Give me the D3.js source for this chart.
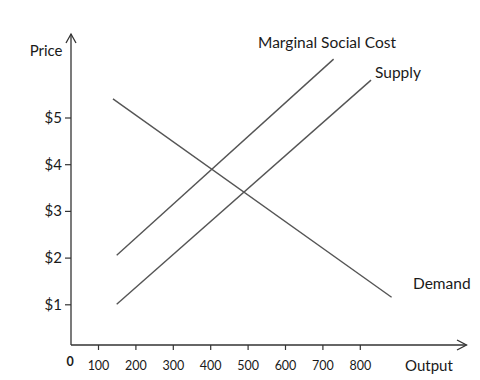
<!DOCTYPE html>
<html>
<head>
<meta charset="utf-8">
<script src="https://cdn.jsdelivr.net/npm/d3@7"></script>
<style>
  html, body { margin: 0; padding: 0; background: #fff; }
  svg text { font-family: Lato, "Open Sans", sans-serif; fill: #1a1a1a; }
</style>
</head>
<body>
<svg id="chart" width="480" height="380"></svg>
<script>
// ---- data ----
const xTicks = [100, 200, 300, 400, 500, 600, 700, 800];
const yTicks = [1, 2, 3, 4, 5];
const yTickLabels = ["$1", "$2", "$3", "$4", "$5"];
const curveNames = ["Demand", "Marginal Social Cost", "Supply"];
const demandOutput = [140, 885];
const demandPrice = [5.4, 1.15];
const mscOutput = [150, 730];
const mscPrice = [2.05, 6.25];
const supplyOutput = [150, 830];
const supplyPrice = [1.0, 5.8];

// ---- layout ----
const svg = d3.select("#chart");
const axisX = 71, axisY = 345;
const x = d3.scaleLinear().domain([0, 800]).range([60.6, 359.8]);
const y = d3.scaleLinear().domain([0, 5]).range([351, 117.5]);
const axisColor = "#333";
const lineColor = "#555";

// axis lines with arrows
svg.append("line").attr("x1", axisX).attr("y1", axisY).attr("x2", axisX).attr("y2", 34)
  .attr("stroke", axisColor).attr("stroke-width", 1.3);
svg.append("path").attr("d", `M${axisX - 5},43 L${axisX},34 L${axisX + 5},43`)
  .attr("fill", "none").attr("stroke", axisColor).attr("stroke-width", 1.3);
svg.append("line").attr("x1", axisX).attr("y1", axisY).attr("x2", 466.5).attr("y2", axisY)
  .attr("stroke", axisColor).attr("stroke-width", 1.3);
svg.append("path").attr("d", `M457,${axisY - 5} L466.5,${axisY} L457,${axisY + 5}`)
  .attr("fill", "none").attr("stroke", axisColor).attr("stroke-width", 1.3);

// x axis ticks
const gx = svg.append("g").attr("transform", `translate(0,${axisY})`)
  .call(d3.axisBottom(x).tickValues(xTicks).tickSize(5).tickPadding(11).tickFormat(d3.format("d")));
gx.select(".domain").remove();
gx.selectAll(".tick line").attr("stroke", axisColor).attr("stroke-width", 1.2);
gx.selectAll(".tick text").attr("font-size", 12.5).attr("font-family", "Lato, sans-serif").attr("fill", "#1a1a1a");

// y axis ticks
const gy = svg.append("g").attr("transform", `translate(${axisX},0)`)
  .call(d3.axisLeft(y).tickValues(yTicks).tickSize(6).tickPadding(3)
    .tickFormat((d, i) => yTickLabels[i]));
gy.select(".domain").remove();
gy.selectAll(".tick line").attr("stroke", axisColor).attr("stroke-width", 1.2);
gy.selectAll(".tick text").attr("font-size", 15).attr("font-family", "Lato, sans-serif").attr("fill", "#1a1a1a");

// origin label
svg.append("text").attr("x", axisX - 1).attr("y", 366).attr("text-anchor", "middle")
  .attr("font-size", 12.5).attr("font-weight", "bold").text("0");

// curves
const curves = [
  { name: curveNames[0], xs: demandOutput, ys: demandPrice },
  { name: curveNames[1], xs: mscOutput, ys: mscPrice },
  { name: curveNames[2], xs: supplyOutput, ys: supplyPrice }
];
const line = d3.line().x(d => x(d[0])).y(d => y(d[1]));
svg.selectAll("path.curve").data(curves).enter().append("path")
  .attr("class", "curve")
  .attr("d", c => line(c.xs.map((v, i) => [v, c.ys[i]])))
  .attr("fill", "none").attr("stroke", lineColor).attr("stroke-width", 1.4);

// labels
svg.append("text").attr("x", 62.5).attr("y", 56).attr("text-anchor", "end").attr("font-size", 15).text("Price");
svg.append("text").attr("x", 405).attr("y", 371).attr("font-size", 15).text("Output");
svg.append("text").attr("x", 258).attr("y", 48).attr("font-size", 15.5).text(curveNames[1]);
svg.append("text").attr("x", 375).attr("y", 78).attr("font-size", 15.5).text(curveNames[2]);
svg.append("text").attr("x", 413).attr("y", 289).attr("font-size", 15.5).text(curveNames[0]);
</script>
</body>
</html>
